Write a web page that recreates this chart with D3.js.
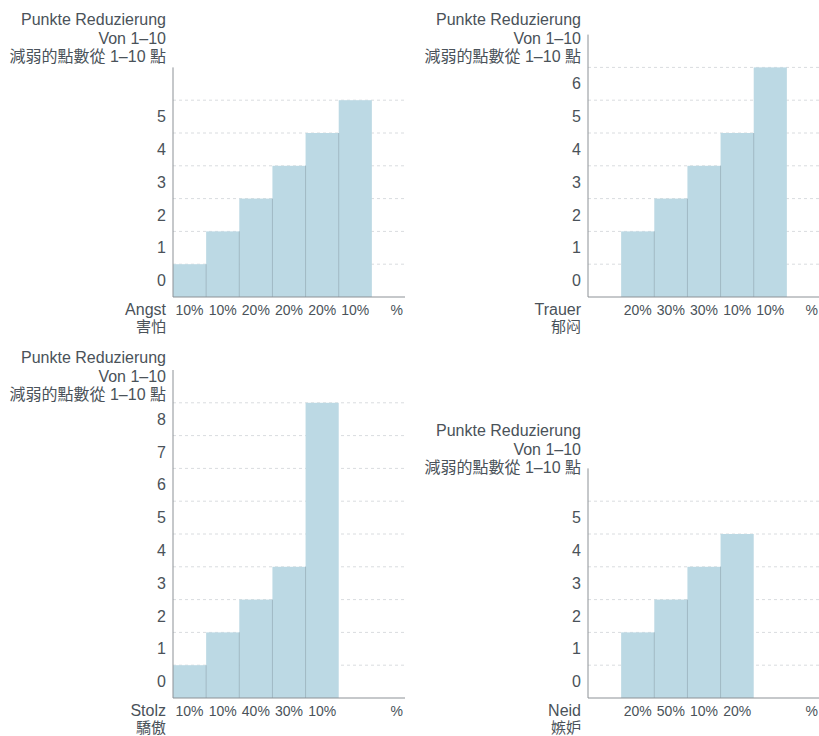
<!DOCTYPE html>
<html>
<head>
  <meta charset="utf-8">
  <title>Punkte Reduzierung</title>
  <style>
    body { margin: 0; background: #fff; }
    text { font-family: "Liberation Sans", "Noto Sans CJK TC", sans-serif; fill: #4a5259; }
  </style>
</head>
<body>
  <svg id="svg"></svg>

  <script src="https://d3js.org/d3.v7.min.js"></script>
  <script>
    // chart values
    let titleLines = ["Punkte Reduzierung", "Von 1–10", "減弱的點數從 1–10 點"];
    let emotions = ["Angst", "Trauer", "Stolz", "Neid"];
    let emotionsZh = ["害怕", "郁闷", "驕傲", "嫉妒"];
    let yMaxLabel = [5, 6, 8, 5];

    let angstSlots = [0, 1, 2, 3, 4, 5];
    let angstValues = [0, 1, 2, 3, 4, 5];
    let angstShares = ["10%", "10%", "20%", "20%", "20%", "10%"];

    let trauerSlots = [1, 2, 3, 4, 5];
    let trauerValues = [1, 2, 3, 4, 6];
    let trauerShares = ["20%", "30%", "30%", "10%", "10%"];

    let stolzSlots = [0, 1, 2, 3, 4];
    let stolzValues = [0, 1, 2, 3, 8];
    let stolzShares = ["10%", "10%", "40%", "30%", "10%"];

    let neidSlots = [1, 2, 3, 4];
    let neidValues = [1, 2, 3, 4];
    let neidShares = ["20%", "50%", "10%", "20%"];

    let slotCount = 7;

    // layout
    let width = 819, height = 736;
    let unit = 32.8;
    let plotWidth = 232;
    let panels = [
      { x: 173, base: 297, titleY: 25, slots: angstSlots, values: angstValues, shares: angstShares },
      { x: 588, base: 297, titleY: 25, slots: trauerSlots, values: trauerValues, shares: trauerShares },
      { x: 173, base: 698, titleY: 363, slots: stolzSlots, values: stolzValues, shares: stolzShares },
      { x: 588, base: 698, titleY: 436, slots: neidSlots, values: neidValues, shares: neidShares }
    ];

    let svg = d3.select("#svg").attr("width", width).attr("height", height);

    panels.forEach((p, k) => {
      let top = yMaxLabel[k] + 2;
      let g = svg.append("g").attr("transform", `translate(${p.x}, 0)`);

      let xScale = d3.scaleBand().domain(d3.range(slotCount)).range([0, plotWidth]).padding(0);
      let yScale = d3.scaleLinear().domain([0, top]).range([p.base, p.base - top * unit]);

      // dashed grid
      g.selectAll("line.grid")
        .data(d3.range(1, yMaxLabel[k] + 2))
        .join("line")
        .attr("class", "grid")
        .attr("x1", 0).attr("x2", plotWidth)
        .attr("y1", d => yScale(d)).attr("y2", d => yScale(d))
        .attr("stroke", "#d9dcdf")
        .attr("stroke-dasharray", "3,3");

      let bars = p.slots.map((s, i) => ({ slot: s, value: p.values[i], share: p.shares[i] }));

      g.selectAll("rect.bar")
        .data(bars)
        .join("rect")
        .attr("class", "bar")
        .attr("x", d => xScale(d.slot))
        .attr("width", xScale.bandwidth())
        .attr("y", d => yScale(d.value + 1))
        .attr("height", d => yScale(0) - yScale(d.value + 1))
        .attr("fill", "#bcd9e4");

      // separators between neighbouring bars
      g.selectAll("line.sep")
        .data(bars.slice(1))
        .join("line")
        .attr("class", "sep")
        .attr("x1", d => xScale(d.slot)).attr("x2", d => xScale(d.slot))
        .attr("y1", yScale(0))
        .attr("y2", (d, i) => yScale(Math.min(d.value, bars[i].value) + 1))
        .attr("stroke", "#9fb8c3")
        .attr("stroke-width", 1);

      // axes
      g.append("line")
        .attr("x1", 0).attr("x2", 0)
        .attr("y1", yScale(0)).attr("y2", yScale(top))
        .attr("stroke", "#8c9196");
      g.append("line")
        .attr("x1", 0).attr("x2", plotWidth)
        .attr("y1", yScale(0)).attr("y2", yScale(0))
        .attr("stroke", "#8c9196");

      // y labels sit in the middle of each band
      g.selectAll("text.ytick")
        .data(d3.range(0, yMaxLabel[k] + 1))
        .join("text")
        .attr("class", "ytick")
        .attr("x", -7)
        .attr("y", d => yScale(d + 0.5))
        .attr("dy", "0.35em")
        .attr("text-anchor", "end")
        .attr("font-size", 16)
        .text(d => d);

      // x labels
      g.selectAll("text.xtick")
        .data(bars)
        .join("text")
        .attr("class", "xtick")
        .attr("x", d => xScale(d.slot) + xScale.bandwidth() / 2)
        .attr("y", yScale(0) + 18)
        .attr("text-anchor", "middle")
        .attr("font-size", 14)
        .text(d => d.share);

      g.append("text")
        .attr("x", plotWidth - 2)
        .attr("y", yScale(0) + 18)
        .attr("text-anchor", "end")
        .attr("font-size", 14)
        .text("%");

      // category name
      g.append("text")
        .attr("x", -7).attr("y", yScale(0) + 18)
        .attr("text-anchor", "end")
        .attr("font-size", 16)
        .text(emotions[k]);
      g.append("text")
        .attr("x", -7).attr("y", yScale(0) + 35)
        .attr("text-anchor", "end")
        .attr("font-size", 15)
        .text(emotionsZh[k]);

      // title
      g.selectAll("text.title")
        .data(titleLines)
        .join("text")
        .attr("class", "title")
        .attr("x", -7)
        .attr("y", (d, i) => p.titleY + i * 18.5)
        .attr("text-anchor", "end")
        .attr("font-size", 16)
        .text(d => d);
    });
  </script>
</body>
</html>
